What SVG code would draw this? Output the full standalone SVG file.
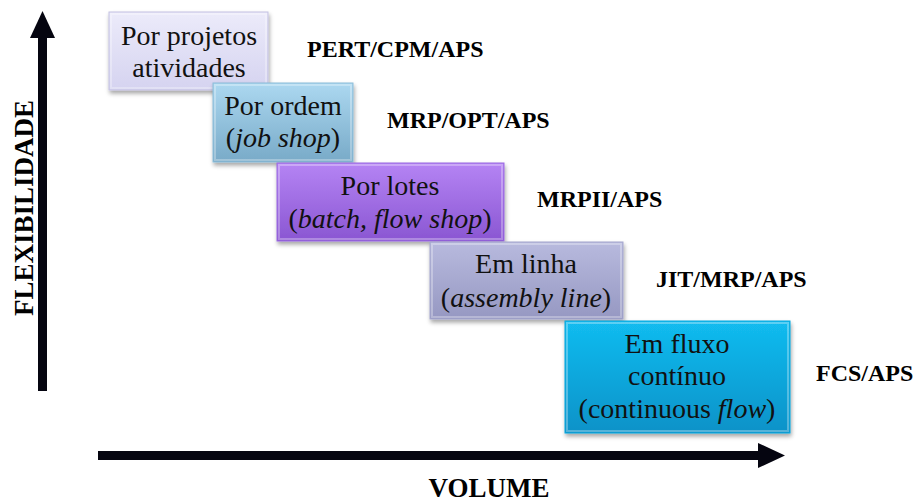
<svg xmlns="http://www.w3.org/2000/svg" width="919" height="502" viewBox="0 0 919 502">
<style>
.lbl{font-family:"Liberation Serif","Times New Roman",serif;font-size:24px;font-weight:bold;fill:#000}
.ax{font-family:"Liberation Serif","Times New Roman",serif;font-size:27px;font-weight:bold;fill:#000}
.bt{font-family:"Liberation Serif","Times New Roman",serif;font-size:28px;fill:#111;text-anchor:middle}
.bev{fill:none;stroke:#fff;stroke-opacity:0.3;stroke-width:2}
</style>
<defs>
<filter id="sh" x="-10%" y="-10%" width="125%" height="130%">
<feDropShadow dx="1" dy="3" stdDeviation="2" flood-color="#000" flood-opacity="0.35"/>
</filter>
<linearGradient id="g1" x1="0" y1="0" x2="0" y2="1"><stop offset="0" stop-color="#ecebfa"/><stop offset="1" stop-color="#d5d3f0"/></linearGradient>
<linearGradient id="g2" x1="0" y1="0" x2="0" y2="1"><stop offset="0" stop-color="#acd8f0"/><stop offset="1" stop-color="#78aac8"/></linearGradient>
<linearGradient id="g3" x1="0" y1="0" x2="0" y2="1"><stop offset="0" stop-color="#b584f4"/><stop offset="1" stop-color="#8a56d2"/></linearGradient>
<linearGradient id="g4" x1="0" y1="0" x2="0" y2="1"><stop offset="0" stop-color="#b8bade"/><stop offset="1" stop-color="#9698c2"/></linearGradient>
<linearGradient id="g5" x1="0" y1="0" x2="0" y2="1"><stop offset="0" stop-color="#12bcf0"/><stop offset="1" stop-color="#0a92c8"/></linearGradient>
</defs>
<g id="connectors">
<rect x="38" y="36" width="9" height="355" fill="#050510"/>
<polygon points="42.5,11 30,38 55,38" fill="#050510"/>
<rect x="98" y="451" width="662" height="9" fill="#050510"/>
<polygon points="785,455.5 758,443 758,468" fill="#050510"/>
</g>
<g id="box1"><rect x="109" y="12" width="159" height="78" fill="url(#g1)" stroke="#c4c2e2" stroke-width="1" filter="url(#sh)"/><rect class="bev" x="111" y="14" width="155" height="74"/>
<text class="bt" x="189" y="45">Por projetos</text><text class="bt" x="189" y="77">atividades</text></g>
<g id="box2"><rect x="213" y="83" width="140" height="79" fill="url(#g2)" stroke="#8cbcd8" stroke-width="1" filter="url(#sh)"/><rect class="bev" x="215" y="85" width="136" height="75"/>
<text class="bt" x="283" y="115">Por ordem</text><text class="bt" x="283" y="147">(<tspan font-style="italic">job shop</tspan>)</text></g>
<g id="box3"><rect x="277" y="163" width="227" height="78" fill="url(#g3)" stroke="#9a6ae0" stroke-width="1" filter="url(#sh)"/><rect class="bev" x="279" y="165" width="223" height="74"/>
<text class="bt" x="390" y="195">Por lotes</text><text class="bt" x="390" y="228">(<tspan font-style="italic">batch, flow shop</tspan>)</text></g>
<g id="box4"><rect x="430" y="242" width="193" height="77" fill="url(#g4)" stroke="#a4a6cc" stroke-width="1" filter="url(#sh)"/><rect class="bev" x="432" y="244" width="189" height="73"/>
<text class="bt" x="526" y="273">Em linha</text><text class="bt" x="526" y="307">(<tspan font-style="italic">assembly line</tspan>)</text></g>
<g id="box5"><rect x="565" y="321" width="225" height="112" fill="url(#g5)" stroke="#0aa6dc" stroke-width="1" filter="url(#sh)"/><rect class="bev" x="567" y="323" width="221" height="108"/>
<text class="bt" x="677" y="353">Em fluxo</text><text class="bt" x="677" y="385">contínuo</text><text class="bt" x="677" y="418">(continuous <tspan font-style="italic">flow</tspan>)</text></g>
<g id="labels">
<text class="lbl" x="307" y="57">PERT/CPM/APS</text>
<text class="lbl" x="387" y="128">MRP/OPT/APS</text>
<text class="lbl" x="537" y="207">MRPII/APS</text>
<text class="lbl" x="656" y="287">JIT/MRP/APS</text>
<text class="lbl" x="816" y="381">FCS/APS</text>
<text class="ax" x="489" y="497" text-anchor="middle">VOLUME</text>
<text class="ax" transform="translate(33,208) rotate(-90)" text-anchor="middle">FLEXIBILIDADE</text>
</g>
</svg>
